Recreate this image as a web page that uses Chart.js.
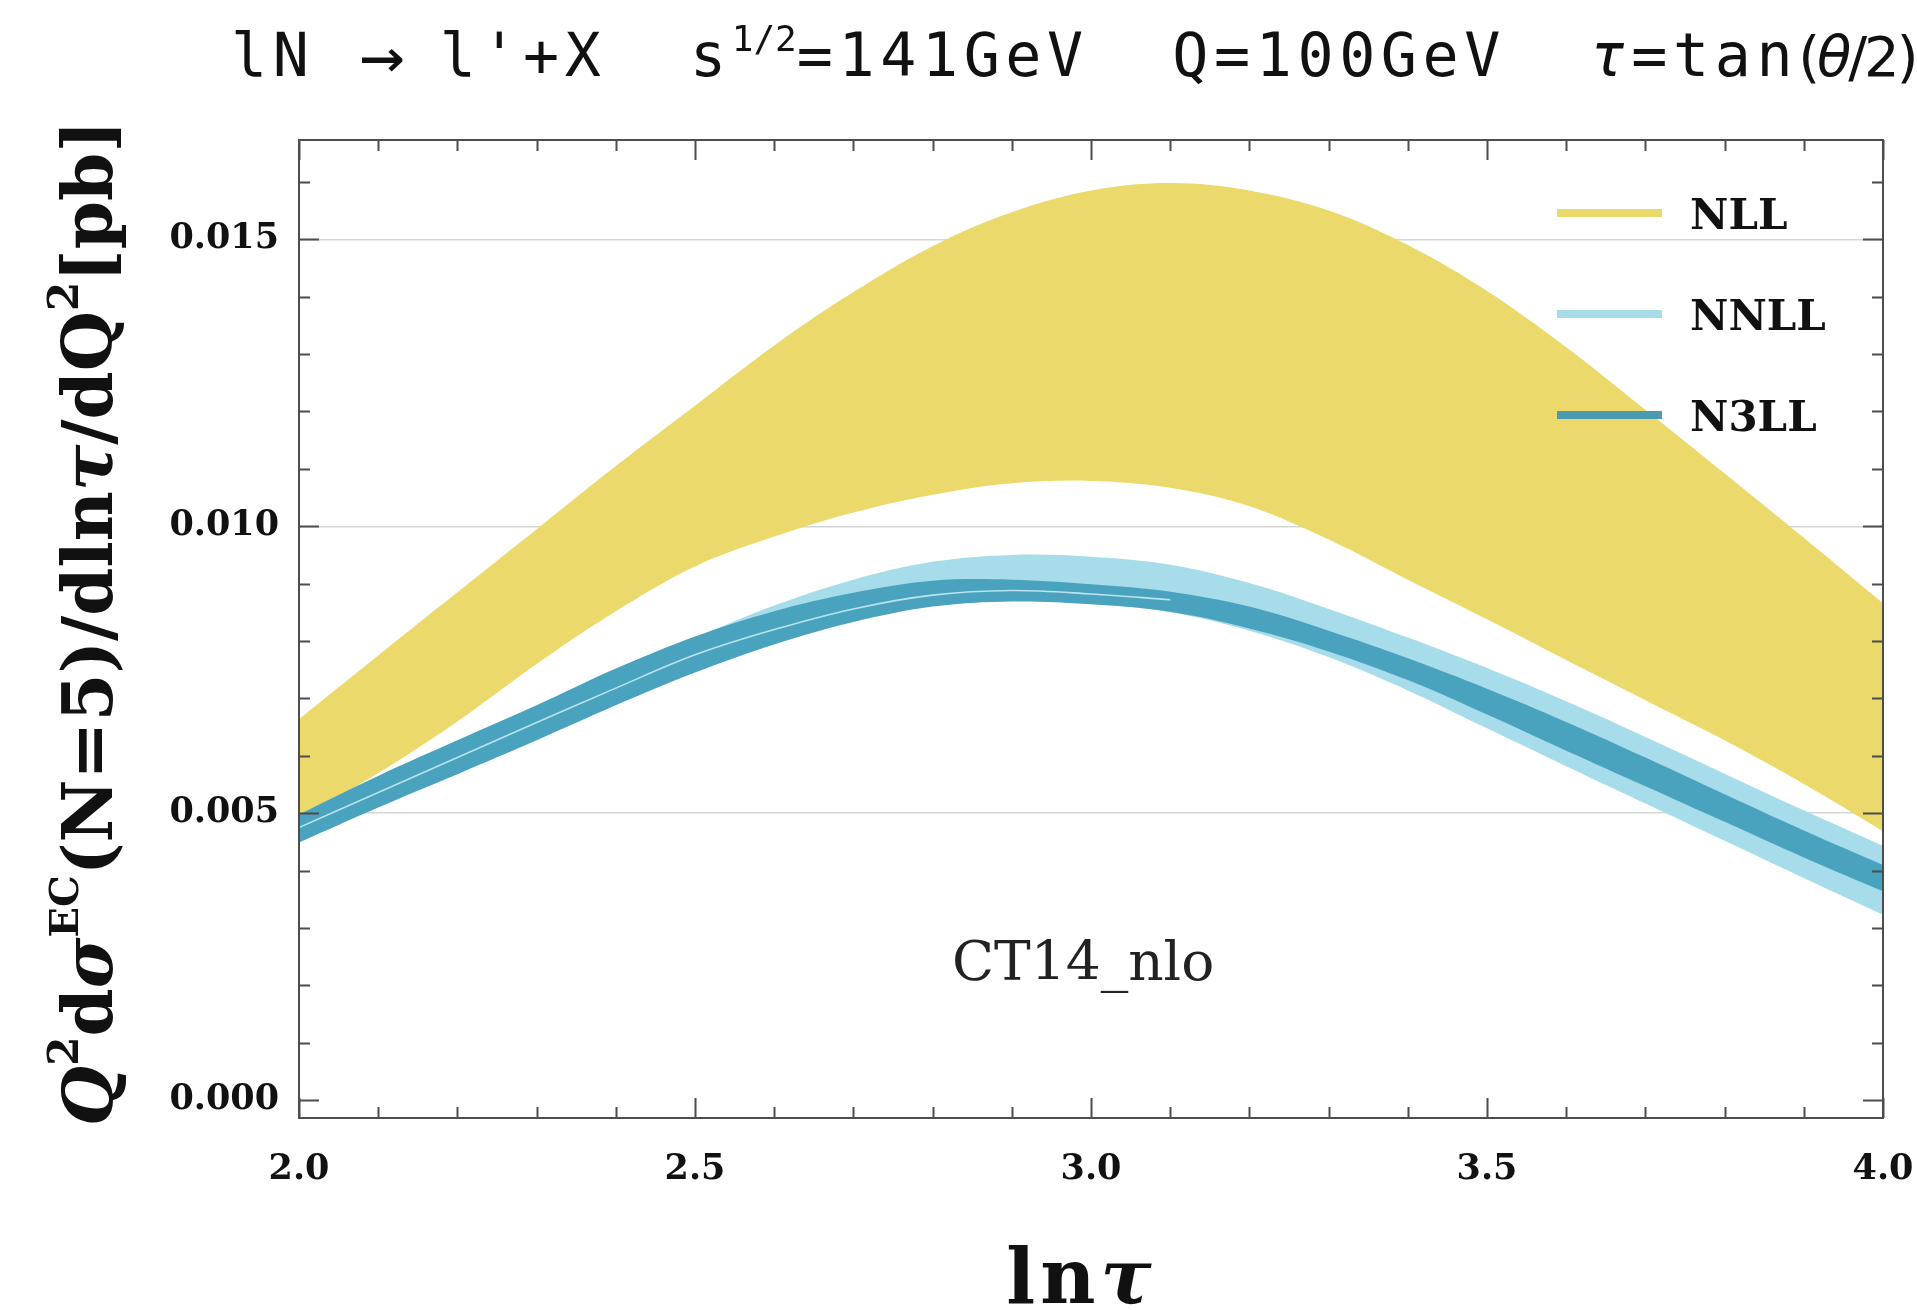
<!DOCTYPE html>
<html>
<head>
<meta charset="utf-8">
<script src="https://cdn.jsdelivr.net/npm/chart.js@4/dist/chart.umd.min.js"></script>
<style>
html, body { margin: 0; padding: 0; background: #ffffff; }
#wrap { position: relative; width: 1917px; height: 1310px; overflow: hidden; }
canvas { position: absolute; left: 0; top: 0; }
#title { position: absolute; left: 231px; top: 25px; font-family: "DejaVu Sans Mono", monospace; font-size: 60px;
  letter-spacing: 5.6px; white-space: pre; color: #111; line-height: 1; }
#title sup { font-size: 0.6em; vertical-align: 0.7em; letter-spacing: 0px; line-height: 0; }
#title .arr { display: inline-block; transform: translateX(9px) scale(1.25, 1.15); }
#title .tight { font-family: "DejaVu Sans", sans-serif; font-size: 56px; letter-spacing: -3px; }
</style>
</head>
<body>
<div id="wrap">
  <canvas id="c" width="1917" height="1310"></canvas>
  <div id="title">lN <span class="arr">→</span> l'+X  s<sup>1/2</sup>=141GeV  Q=100GeV  <i>τ</i>=tan<span class="tight">(<i>θ</i>/2)</span></div>
</div>
<script>
// ---- data ----
const lnTau = [2.0, 2.1, 2.2, 2.3, 2.4, 2.5, 2.6, 2.7, 2.8, 2.9, 3.0, 3.1, 3.2, 3.3, 3.4, 3.5, 3.6, 3.7, 3.8, 3.9, 4.0];

const nllUpper = [0.00664, 0.00775, 0.00885, 0.00995, 0.01105, 0.01210, 0.01315, 0.01408, 0.01488, 0.01547, 0.01585,
                  0.01598, 0.01585, 0.01550, 0.01490, 0.01410, 0.01312, 0.01203, 0.01092, 0.00980, 0.00866];
const nllLower = [0.00490, 0.00570, 0.00660, 0.00760, 0.00852, 0.00930, 0.00982, 0.01024, 0.01055, 0.01075, 0.01079,
                  0.01067, 0.01035, 0.00977, 0.00907, 0.00838, 0.00767, 0.00697, 0.00627, 0.00551, 0.00469];

const nnllUpper = [0.00495, 0.00560, 0.00622, 0.00685, 0.00750, 0.00806, 0.00862, 0.00907, 0.00938, 0.00950, 0.00947,
                   0.00933, 0.00901, 0.00856, 0.00806, 0.00753, 0.00695, 0.00633, 0.00569, 0.00505, 0.00443];
const nnllLower = [0.00455, 0.00515, 0.00573, 0.00632, 0.00692, 0.00748, 0.00797, 0.00835, 0.00861, 0.00870, 0.00865,
                   0.00850, 0.00818, 0.00772, 0.00714, 0.00648, 0.00582, 0.00517, 0.00452, 0.00387, 0.00323];

const n3llUpper = [0.00498, 0.00565, 0.00627, 0.00688, 0.00752, 0.00808, 0.00852, 0.00884, 0.00905, 0.00907, 0.00899,
                   0.00886, 0.00860, 0.00818, 0.00770, 0.00717, 0.00659, 0.00597, 0.00533, 0.00470, 0.00410];
const n3llLower = [0.00449, 0.00510, 0.00568, 0.00627, 0.00688, 0.00745, 0.00794, 0.00833, 0.00860, 0.00869, 0.00864,
                   0.00851, 0.00822, 0.00782, 0.00732, 0.00672, 0.00609, 0.00547, 0.00485, 0.00423, 0.00364];
// thin light seam visible inside the N3LL band (lnTau 2.0 .. 3.1)
const n3llSeam  = [0.00475, 0.00536, 0.00597, 0.00658, 0.00718, 0.00776, 0.00820, 0.00856, 0.00880, 0.00888, 0.00882, 0.00872];

const seriesNames = ['NLL', 'NNLL', 'N3LL'];
const xTickLabels = ['2.0', '2.5', '3.0', '3.5', '4.0'];
const yTickLabels = ['0.000', '0.005', '0.010', '0.015'];
const pdfLabel = 'CT14_nlo';

// ---- styles ----
const COL_NLL = 'rgb(235, 217, 107)';
const COL_NNLL = 'rgb(167, 220, 234)';
const COL_N3LL = 'rgb(74, 163, 190)';
const COL_N3LL_LEG = 'rgb(76, 154, 176)';
const NONE = 'rgba(0,0,0,0)';
const SERIF = '"DejaVu Serif", "Liberation Serif", serif';

const pts = (ys) => ys.map((y, i) => ({ x: lnTau[i], y: y }));
const band = (label, data, color, fill) => ({
  label, data: pts(data), borderColor: NONE, borderWidth: 0, backgroundColor: color,
  fill: fill, tension: 0.35, pointRadius: 0
});

const datasets = [
  { label: 'seam', data: pts(n3llSeam), borderColor: 'rgba(196, 234, 244, 0.9)', borderWidth: 1.6,
    fill: false, tension: 0.35, pointRadius: 0 },
  band(seriesNames[2], n3llUpper, COL_N3LL, '+1'),
  band(seriesNames[2] + ' lower', n3llLower, NONE, false),
  band(seriesNames[1], nnllUpper, COL_NNLL, '+1'),
  band(seriesNames[1] + ' lower', nnllLower, NONE, false),
  band(seriesNames[0], nllUpper, COL_NLL, '+1'),
  band(seriesNames[0] + ' lower', nllLower, NONE, false)
];

// frame with inward major/minor ticks on all four sides
const framePlugin = {
  id: 'frame',
  afterDraw(chart) {
    const { ctx, chartArea: a, scales } = chart;
    const xs = scales.x, ys = scales.y;
    ctx.save();
    ctx.strokeStyle = '#4d4d4d';
    ctx.lineWidth = 2;
    ctx.strokeRect(a.left, a.top, a.right - a.left, a.bottom - a.top);
    ctx.beginPath();
    for (let i = 0; i <= 16; i++) {
      const y = Math.round(ys.getPixelForValue(i / 1000)) + 0.5;
      const len = (i % 5 === 0) ? 20 : 11;
      ctx.moveTo(a.left, y); ctx.lineTo(a.left + len, y);
      ctx.moveTo(a.right, y); ctx.lineTo(a.right - len, y);
    }
    for (let i = 0; i <= 20; i++) {
      const x = Math.round(xs.getPixelForValue(2 + i / 10)) + 0.5;
      const len = (i % 5 === 0) ? 20 : 11;
      ctx.moveTo(x, a.bottom); ctx.lineTo(x, a.bottom - len);
      ctx.moveTo(x, a.top); ctx.lineTo(x, a.top + len);
    }
    ctx.stroke();
    ctx.restore();
  }
};

function richWidth(ctx, segs) {
  let w = 0;
  for (const s of segs) { ctx.font = s.f; w += ctx.measureText(s.t).width + (s.gap || 0); }
  return w;
}
function drawRich(ctx, segs, x0, y0) {
  let x = x0;
  for (const s of segs) {
    ctx.font = s.f;
    ctx.fillText(s.t, x, y0 + (s.dy || 0));
    x += ctx.measureText(s.t).width + (s.gap || 0);
  }
}

const B = 'bold 69px ' + SERIF, BI = 'italic bold 69px ' + SERIF, SUP = 'bold 42px ' + SERIF;
const yTitle = [
  { t: 'Q', f: BI }, { t: '2', f: SUP, dy: -34 }, { t: 'd', f: B }, { t: 'σ', f: BI },
  { t: 'EC', f: 'bold 40px ' + SERIF, dy: -34 }, { t: '(N=5)/dln', f: B }, { t: 'τ', f: BI },
  { t: '/dQ', f: B }, { t: '2', f: SUP, dy: -34 }, { t: '[pb]', f: B }
];
const XT = 'bold 76px ' + SERIF;
const xTitle = [
  { t: 'l', f: XT, gap: 5 }, { t: 'n', f: XT, gap: 5 }, { t: 'τ', f: 'italic bold 76px ' + SERIF }
];

const textPlugin = {
  id: 'texts',
  afterDraw(chart) {
    const { ctx, chartArea: a, scales } = chart;
    ctx.save();
    ctx.fillStyle = '#111';
    ctx.textBaseline = 'alphabetic';
    ctx.textAlign = 'left';
    // y axis title (rotated)
    ctx.save();
    ctx.translate(112, (a.top + a.bottom) / 2 - 6);
    ctx.rotate(-Math.PI / 2);
    drawRich(ctx, yTitle, -richWidth(ctx, yTitle) / 2, 0);
    ctx.restore();
    // x axis title
    drawRich(ctx, xTitle, (a.left + a.right) / 2 - 12 - richWidth(ctx, xTitle) / 2, 1303);
    // PDF set annotation
    ctx.font = '55px ' + SERIF;
    ctx.textAlign = 'center';
    ctx.textBaseline = 'middle';
    ctx.fillStyle = '#222';
    ctx.fillText(pdfLabel, scales.x.getPixelForValue(2.99), scales.y.getPixelForValue(0.00235));
    // legend
    const legendCols = [COL_NLL, COL_NNLL, COL_N3LL_LEG];
    ctx.textAlign = 'left';
    ctx.textBaseline = 'alphabetic';
    ctx.font = 'bold 42px ' + SERIF;
    for (let i = 0; i < seriesNames.length; i++) {
      const yc = a.top + 73 + i * 101;
      ctx.strokeStyle = legendCols[i];
      ctx.lineWidth = 8;
      ctx.beginPath();
      ctx.moveTo(a.right - 326, yc);
      ctx.lineTo(a.right - 221, yc);
      ctx.stroke();
      ctx.fillStyle = '#111';
      ctx.fillText(seriesNames[i], a.right - 193, yc + 16);
    }
    ctx.restore();
  }
};

const tickFont = { family: SERIF, weight: 'bold', size: 35 };

new Chart(document.getElementById('c'), {
  type: 'line',
  data: { datasets },
  options: {
    responsive: false,
    animation: false,
    devicePixelRatio: 1,
    layout: { padding: { left: 0, right: 34, top: 140, bottom: 0 } },
    plugins: { legend: { display: false }, tooltip: { enabled: false } },
    elements: { point: { radius: 0 } },
    scales: {
      x: {
        type: 'linear', min: 2, max: 4,
        ticks: { stepSize: 0.5, color: '#111', font: tickFont, padding: 31, maxRotation: 0,
                 callback: (v) => xTickLabels[Math.round((v - 2) / 0.5)] },
        grid: { display: false, drawTicks: false },
        border: { display: false },
        afterFit(s) { s.height = 192; s.paddingLeft = 0; s.paddingRight = 0; }
      },
      y: {
        type: 'linear', min: -0.00031, max: 0.01673,
        ticks: { stepSize: 0.005, includeBounds: false, color: '#111', font: tickFont, padding: 20,
                 callback: (v) => yTickLabels[Math.round(v / 0.005)] },
        grid: { drawTicks: false, lineWidth: 1.5,
                color: (c) => (c.tick && Math.abs(c.tick.value) < 1e-9) ? NONE : '#d6d6d6' },
        border: { display: false },
        afterFit(s) { s.width = 299; s.paddingTop = 0; s.paddingBottom = 0; }
      }
    }
  },
  plugins: [framePlugin, textPlugin]
});
</script>
</body>
</html>
